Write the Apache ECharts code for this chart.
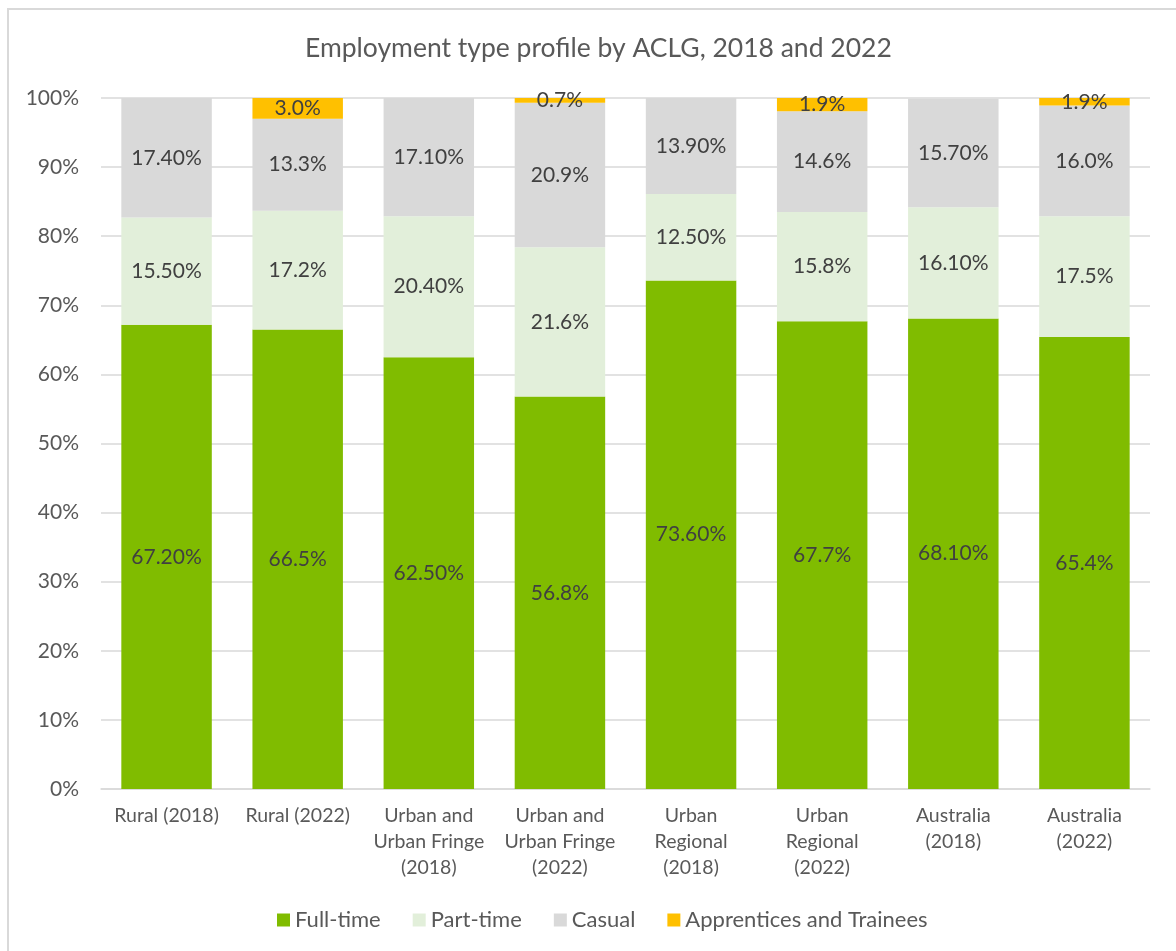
<!DOCTYPE html>
<html>
<head>
<meta charset="utf-8">
<script src="https://cdn.jsdelivr.net/npm/echarts@6/dist/echarts.min.js"></script>
<style>
  html, body { margin: 0; padding: 0; background: #fff; overflow: hidden; }
  #frame { position: absolute; left: 7px; top: 8px; width: 1300px; height: 1100px; border: 2px solid #d9d9d9; box-sizing: border-box; }
  #chart { position: absolute; left: 0; top: 0; width: 1176px; height: 951px; }
</style>
</head>
<body>
<div id="frame"></div>
<div id="chart"></div>
<script>
// Employment type shares by ACLG group, 2018 vs 2022
const categories = [
  'Rural (2018)', 'Rural (2022)',
  'Urban and\nUrban Fringe\n(2018)', 'Urban and\nUrban Fringe\n(2022)',
  'Urban\nRegional\n(2018)', 'Urban\nRegional\n(2022)',
  'Australia\n(2018)', 'Australia\n(2022)'
];
// decimals shown in each column's labels (2018 figures carry two decimals)
const labelDecimals = [2, 1, 2, 1, 2, 1, 2, 1];

const fullTime    = [67.2, 66.5, 62.5, 56.8, 73.6, 67.7, 68.1, 65.4];
const partTime    = [15.5, 17.2, 20.4, 21.6, 12.5, 15.8, 16.1, 17.5];
const casual      = [17.4, 13.3, 17.1, 20.9, 13.9, 14.6, 15.7, 16.0];
const apprentices = [0, 3.0, 0, 0.7, 0, 1.9, 0, 1.9];

const yTicks = [0, 10, 20, 30, 40, 50, 60, 70, 80, 90, 100];

const FONT = 'Lato, "Open Sans", sans-serif';

function makeSeries(name, data, color) {
  return {
    name: name,
    type: 'bar',
    stack: 'total',
    data: data,
    barWidth: '69%',
    itemStyle: { color: color },
    label: {
      show: true,
      position: 'inside',
      color: '#404040',
      fontFamily: FONT,
      fontSize: 21,
      formatter: function (p) {
        if (!p.value) return '';
        return p.value.toFixed(labelDecimals[p.dataIndex]) + '%';
      }
    }
  };
}

const chart = echarts.init(document.getElementById('chart'), null, { renderer: 'canvas' });
chart.setOption({
  animation: false,
  backgroundColor: 'transparent',
  title: {
    text: 'Employment type profile by ACLG, 2018 and 2022',
    left: 300,
    top: 30,
    textStyle: { color: '#595959', fontFamily: FONT, fontSize: 26.5, fontWeight: 'normal' }
  },
  grid: { left: 101, right: 26, top: 98, bottom: 162, containLabel: false },
  legend: {
    bottom: 15,
    left: 272,
    icon: 'rect',
    itemWidth: 13,
    itemHeight: 13,
    itemGap: 32,
    textStyle: { color: '#595959', fontFamily: FONT, fontSize: 22 },
    data: ['Full-time', 'Part-time', 'Casual', 'Apprentices and Trainees']
  },
  xAxis: {
    type: 'category',
    data: categories,
    axisTick: { show: false },
    axisLine: { lineStyle: { color: '#d9d9d9', width: 1.5 } },
    axisLabel: {
      interval: 0,
      margin: 14,
      color: '#595959',
      fontFamily: FONT,
      fontSize: 19.5,
      lineHeight: 26
    }
  },
  yAxis: {
    type: 'value',
    min: yTicks[0],
    max: yTicks[yTicks.length - 1],
    interval: 10,
    axisLine: { show: false },
    axisTick: { show: false },
    splitLine: { lineStyle: { color: '#d9d9d9', width: 1.5 } },
    axisLabel: {
      margin: 22,
      color: '#595959',
      fontFamily: FONT,
      fontSize: 21,
      formatter: function (v) { return v + '%'; }
    }
  },
  series: [
    makeSeries('Full-time', fullTime, '#80bc00'),
    makeSeries('Part-time', partTime, '#e2efda'),
    makeSeries('Casual', casual, '#d9d9d9'),
    makeSeries('Apprentices and Trainees', apprentices, '#ffc000')
  ]
});
</script>
</body>
</html>
